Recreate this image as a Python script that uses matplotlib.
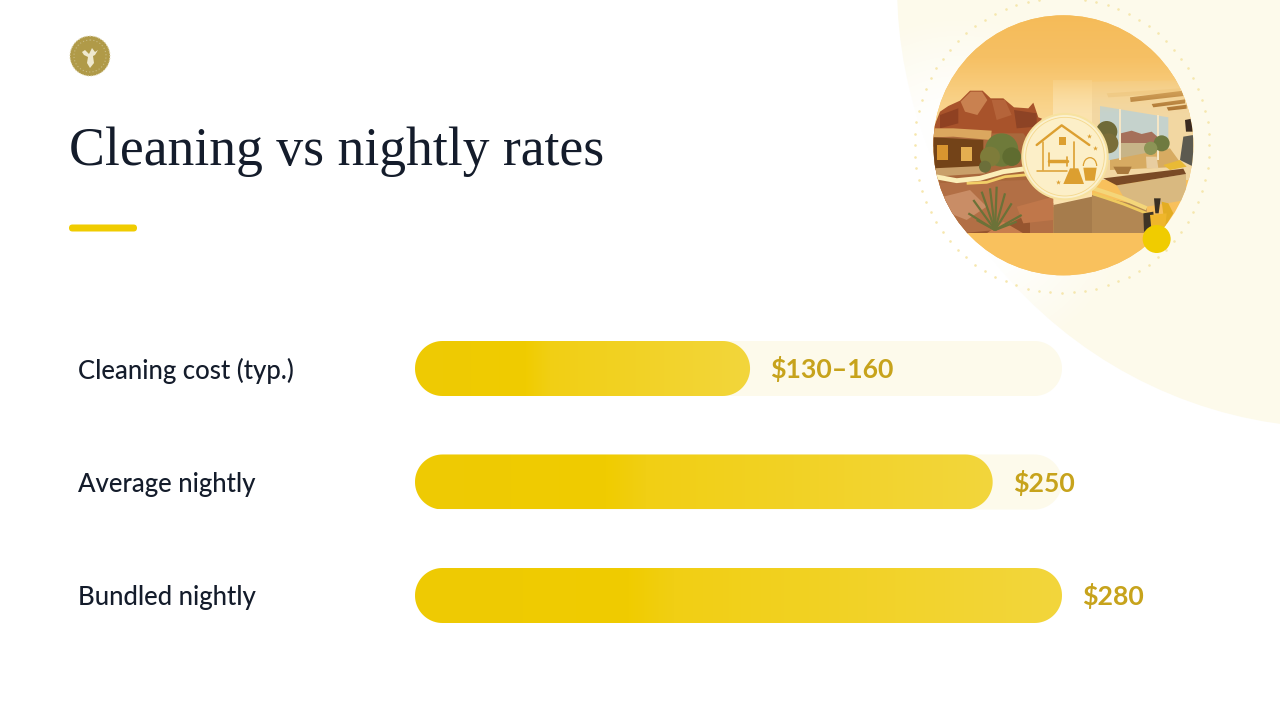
import numpy as np
import matplotlib
matplotlib.use("Agg")
import matplotlib.pyplot as plt
import matplotlib.patches as mpatches
from matplotlib.colors import LinearSegmentedColormap

categories = ["Cleaning cost (typ.)", "Average nightly", "Bundled nightly"]
values = [145, 250, 280]
value_labels = ["$130–160", "$250", "$280"]
track_max = 280

title = "Cleaning vs nightly rates"

W, H = 1280, 720
INK = "#141c2b"
YELLOW = "#f0cc00"
GOLD = "#c7a31c"
CREAM = "#fdfaeb"


def px_axes(fig, left, top, right, bottom):
    """Axes placed by pixel box (y measured from the top)"""
    return fig.add_axes([left / W, 1 - bottom / H, (right - left) / W, (bottom - top) / H])


def pill(x1, yc, h, rx):
    """Outline of a rounded bar from 0 to x1, with true circular ends"""
    t = np.linspace(-np.pi / 2, np.pi / 2, 40)
    right = np.column_stack([x1 - rx + rx * np.cos(t), yc + h / 2 * np.sin(t)])
    left = np.column_stack([rx - rx * np.cos(t), yc - h / 2 * np.sin(t)])
    return np.vstack([right, left])


def draw_background(ax):
    ax.add_patch(mpatches.Circle((1340, -15), 443, facecolor=CREAM, edgecolor="none", zorder=1))

    # the cream washes out to white toward the lower left of the picture
    yy, xx = np.mgrid[0:420, 820:1240]
    d = np.hypot(xx - 960, yy - 190)
    rgba = np.ones((420, 420, 4))
    rgba[..., 3] = np.clip((175 - d) / 95, 0, 1) * 0.95
    ax.imshow(rgba, extent=(820, 1240, 420, 0), aspect="auto", zorder=2)

    # accent rule under the title
    ax.add_patch(mpatches.FancyBboxPatch((69, 224.5), 68, 7, boxstyle="round,pad=0,rounding_size=3.5",
                                         facecolor=YELLOW, edgecolor="none", zorder=3))

    # logo
    ax.add_patch(mpatches.Circle((90, 56), 20, facecolor="#b09a48", edgecolor="#e2d9b4", linewidth=0.8,
                                 linestyle=(0, (1, 1.5)), zorder=3))
    ax.add_patch(mpatches.Circle((90, 56), 16, facecolor="none", edgecolor="#c9bb82", linewidth=0.8,
                                 linestyle=(0, (1, 2)), zorder=4))
    ax.add_patch(mpatches.Polygon([(82, 52), (85, 50), (89, 54), (92, 48), (95, 52), (98, 50), (95, 55),
                                   (93, 56), (94, 63), (90, 68), (87, 63), (88, 57), (84, 55)],
                                  facecolor="#efe9cf", edgecolor="none", zorder=4))

    ax.set_xlim(0, W)
    ax.set_ylim(H, 0)
    ax.axis("off")


def draw_picture(ax):
    # coordinates here are the 3x scale of the crop starting at (890, 0)
    cx, cy, r = 520, 436, 390
    clip = mpatches.Circle((cx, cy), r, transform=ax.transData)

    def poly(points, color, z=3, alpha=1.0):
        p = mpatches.Polygon(points, facecolor=color, edgecolor="none", alpha=alpha, zorder=z)
        ax.add_patch(p)
        p.set_clip_path(clip)

    def disc(x, y, rad, color, z=3):
        p = mpatches.Circle((x, y), rad, facecolor=color, edgecolor="none", zorder=z)
        ax.add_patch(p)
        p.set_clip_path(clip)

    def band(x, y, color, lw, z=7):
        line, = ax.plot(x, y, color=color, linewidth=lw, solid_capstyle="butt", zorder=z)
        line.set_clip_path(clip)

    # dotted ring
    ang = np.linspace(0, 2 * np.pi, 80, endpoint=False)
    ax.scatter(cx - 4 + 442 * np.cos(ang), cy + 442 * np.sin(ang), s=3.5, color="#f6e7ae", linewidths=0, zorder=2)

    # orange disc, fading to the pale sky
    col = LinearSegmentedColormap.from_list("sky", ["#f5bb58", "#f6c064", "#f9d288", "#fbdfa8"])
    grad = np.linspace(0, 1, 200).reshape(-1, 1)
    im = ax.imshow(grad, cmap=col, extent=(100, 950, 440, 40), aspect="auto", zorder=2)
    base = mpatches.Circle((cx, cy), r, facecolor="#f8c05c", edgecolor="none", zorder=1)
    ax.add_patch(base)
    im.set_clip_path(clip)

    # left side: rocks, building, desert
    poly([(130, 385), (150, 335), (175, 318), (210, 302), (240, 272), (278, 272), (302, 295), (340, 295),
          (372, 322), (415, 325), (430, 308), (445, 352), (456, 356), (400, 440), (130, 440)], "#a8532b")
    poly([(212, 305), (242, 275), (276, 275), (292, 300), (262, 345), (225, 335)], "#c98150", 4)
    poly([(305, 300), (345, 300), (365, 345), (320, 360)], "#b5643a", 4)
    poly([(150, 345), (205, 325), (205, 370), (150, 385)], "#8f4122", 4)
    poly([(372, 330), (440, 340), (440, 380), (380, 385)], "#8d4325", 4)
    poly([(130, 400), (400, 400), (490, 520), (490, 700), (130, 700)], "#a9683c")
    poly([(130, 385), (190, 385), (305, 392), (302, 420), (190, 410), (130, 412)], "#dba75f", 5)
    poly([(130, 412), (280, 420), (280, 505), (130, 510)], "#734318", 5)
    poly([(140, 435), (175, 435), (175, 480), (140, 480)], "#d9952f", 6)
    poly([(212, 440), (245, 440), (245, 482), (212, 482)], "#e4ae50", 6)
    poly([(130, 505), (275, 498), (285, 520), (130, 530)], "#c9a06a", 6)
    disc(335, 450, 50, "#6e7a3a", 6)
    disc(300, 470, 30, "#7e7c3a", 6)
    disc(365, 470, 28, "#5f6c30", 6)
    disc(285, 500, 18, "#6c6f3a", 6)
    poly([(130, 550), (410, 540), (490, 610), (490, 700), (130, 700)], "#b26f45", 4)
    poly([(160, 590), (240, 570), (290, 620), (230, 660), (180, 640)], "#c98d66", 5)
    poly([(380, 620), (490, 590), (490, 660), (400, 670)], "#c0774a", 5)
    poly([(290, 700), (340, 665), (400, 700)], "#c77e4e", 5)
    poly([(210, 700), (320, 690), (420, 640), (420, 700)], "#96552f", 4)
    for tx, ty in [(235, 640), (250, 600), (275, 575), (300, 565), (320, 560), (345, 580), (365, 610), (395, 645),
                   (260, 660), (380, 665)]:
        band([315, tx], [690, ty], "#6b7238", 1.6, 6)

    # wall and right side interior
    poly([(490, 240), (606, 240), (606, 620), (490, 620)], "#fbe2ae", 3)
    poly([(606, 245), (910, 240), (910, 540), (606, 540)], "#f2d7a2", 3)
    poly([(650, 280), (870, 265), (870, 278), (655, 292)], "#eac88a", 4)
    poly([(720, 292), (880, 272), (880, 288), (722, 306)], "#a86f2c", 5)
    poly([(785, 312), (885, 298), (885, 310), (790, 322)], "#a86f2c", 5)
    poly([(830, 322), (890, 314), (890, 326), (835, 332)], "#a86f2c", 5)
    poly([(630, 318), (835, 352), (835, 480), (630, 480)], "#c5d2cc", 5)
    poly([(692, 400), (725, 392), (755, 402), (785, 395), (802, 410), (802, 430), (692, 430)], "#a5705a", 6)
    poly([(692, 428), (835, 428), (835, 480), (692, 480)], "#c7b488", 6)
    poly([(686, 326), (694, 326), (694, 480), (686, 480)], "#f5e6c6", 7)
    poly([(800, 345), (808, 345), (808, 480), (800, 480)], "#f5e6c6", 7)
    disc(650, 395, 32, "#6f6a38", 7)
    disc(655, 430, 30, "#7a6d38", 7)
    disc(815, 430, 24, "#6f7a40", 7)
    disc(782, 445, 20, "#8c9456", 8)
    poly([(768, 470), (800, 470), (805, 505), (770, 505)], "#e8cda0", 8)
    poly([(660, 480), (840, 445), (880, 500), (660, 510)], "#d7ab62", 6)
    poly([(640, 535), (880, 506), (888, 522), (680, 556)], "#7a4a25", 7)
    poly([(670, 500), (725, 500), (715, 522), (682, 522)], "#a9793c", 8)
    poly([(680, 556), (888, 522), (888, 600), (770, 620), (700, 590)], "#d9b980", 5)
    poly([(606, 585), (770, 620), (770, 700), (606, 700)], "#b28753", 4)
    poly([(490, 615), (606, 590), (606, 700), (490, 700)], "#a67c4c", 4)
    band(np.array([610, 650, 700, 770]), np.array([565, 578, 595, 625]), "#f4d67a", 3)
    band(np.array([610, 650, 700, 770]), np.array([582, 595, 612, 640]), "#efca5e", 2)
    band(np.array([135, 200, 270, 340, 415]), np.array([530, 542, 535, 515, 505]), "#fbeeb8", 3.5)
    band(np.array([230, 290, 345, 415]), np.array([550, 547, 530, 524]), "#f2cf68", 2)
    poly([(885, 360), (910, 355), (910, 395), (888, 395)], "#3a2a20", 8)
    poly([(880, 410), (910, 405), (910, 500), (870, 480)], "#5c5a50", 8)
    poly([(820, 495), (870, 480), (890, 500), (840, 510)], "#e9ba35", 9)

    # top of the interior melts into the orange, same colours as the sky behind
    rows = np.linspace(215, 340, 120)
    fade = col((rows - 40) / 400)[:, None, :].repeat(2, axis=1)
    fade[..., 3] = np.linspace(1, 0, 120)[:, None]
    top = ax.imshow(fade, extent=(480, 950, 340, 215), aspect="auto", zorder=9)
    top.set_clip_path(clip)

    # caddy bottom right
    poly([(760, 640), (790, 635), (795, 690), (762, 695)], "#3f3426", 8)
    poly([(780, 645), (830, 640), (825, 690), (785, 695)], "#efb62b", 9)
    poly([(792, 595), (812, 595), (806, 640), (796, 640)], "#3a3024", 8)
    poly([(815, 605), (835, 610), (850, 640), (825, 680)], "#e3ad22", 8)

    # clean strip below the photo and yellow dot
    poly([(100, 700), (950, 700), (950, 850), (100, 850)], "#f9c15d", 10)
    ax.add_patch(mpatches.Circle((800, 717), 42, facecolor=YELLOW, edgecolor="none", zorder=12))

    # badge
    ax.add_patch(mpatches.Circle((525, 470), 128, facecolor="#fbf1cf", edgecolor="#f7e2a0", linewidth=1.5, zorder=11))
    ax.add_patch(mpatches.Circle((525, 470), 118, facecolor="#fcefc8", edgecolor="#f5d88c", linewidth=0.6, zorder=11))
    icon = "#dc9f30"
    for xs, ys, lw in [([440, 515, 598], [435, 376, 435], 1.7), ([458, 458], [425, 510], 1.1),
                       ([440, 530], [512, 512], 1.1), ([553, 553], [425, 510], 1.2),
                       ([476, 476], [458, 497], 1.2), ([476, 532], [484, 484], 2.5), ([532, 532], [470, 497], 1.2)]:
        ax.plot(xs, ys, color=icon, linewidth=lw, solid_capstyle="round", zorder=12)
    ax.add_patch(mpatches.Rectangle((507, 412), 22, 24, facecolor=icon, edgecolor="none", zorder=12))
    ax.add_patch(mpatches.Polygon([(540, 505), (565, 505), (582, 552), (520, 552)], facecolor=icon, zorder=12))
    ax.add_patch(mpatches.Polygon([(580, 503), (620, 503), (614, 542), (586, 542)], facecolor=icon, zorder=12))
    ax.add_patch(mpatches.Arc((600, 498), 40, 50, theta1=180, theta2=360, edgecolor=icon, linewidth=0.9, zorder=12))
    ax.scatter([615, 596, 505], [445, 408, 545], marker="*", s=14, color=icon, linewidths=0, zorder=12)

    ax.set_xlim(0, 1170)
    ax.set_ylim(900, 0)
    ax.axis("off")
    ax.patch.set_alpha(0)


def draw_bars(ax):
    bar_h = 55 / 113.5
    rx = 27.5 * 280 / 647
    fill = LinearSegmentedColormap.from_list(
        "bar", [(0, "#eeca04"), (0.33, YELLOW), (0.4, "#f1cf14"), (1, "#f3d63c")])

    for i, (val, lab) in enumerate(zip(values, value_labels)):
        track = mpatches.Polygon(pill(track_max, i, bar_h, rx), facecolor=CREAM, edgecolor="none", zorder=1)
        ax.add_patch(track)
        shape = mpatches.Polygon(pill(val, i, bar_h, rx), facecolor="none", edgecolor="none", zorder=2)
        ax.add_patch(shape)
        im = ax.imshow(np.linspace(0, 1, 256).reshape(1, -1), cmap=fill, aspect="auto", zorder=2,
                       extent=(0, val, i + bar_h / 2, i - bar_h / 2))
        im.set_clip_path(shape)
        ax.annotate(lab, xy=(val, i), xytext=(14.5, -0.7), textcoords="offset points", ha="left", va="center",
                    fontsize=19.2, fontweight="bold", family="Lato", color=GOLD, zorder=5)

    ax.set_xlim(0, track_max)
    ax.set_ylim(2 + bar_h / 2, -bar_h / 2)
    ax.set_yticks(range(len(categories)), categories)
    ax.tick_params(axis="y", length=0, pad=337 * 72 / 100)
    for t in ax.get_yticklabels():
        t.set_ha("left")
        t.set_color(INK)
        t.set_fontsize(18.5)
        t.set_family("Lato")
        t.set_fontweight("medium")
    ax.set_xticks([])
    for s in ax.spines.values():
        s.set_visible(False)
    ax.patch.set_alpha(0)


fig = plt.figure(figsize=(12.8, 7.2), dpi=100, facecolor="white")

bg = fig.add_axes([0, 0, 1, 1])
draw_background(bg)
bg.text(69, 152, title, fontsize=38.6, family="Liberation Serif", color=INK, ha="left", va="center")

draw_picture(px_axes(fig, 890, 0, 1280, 300))
draw_bars(px_axes(fig, 415, 341, 1062, 623))

fig.savefig("out.png", dpi=100)
plt.close(fig)
